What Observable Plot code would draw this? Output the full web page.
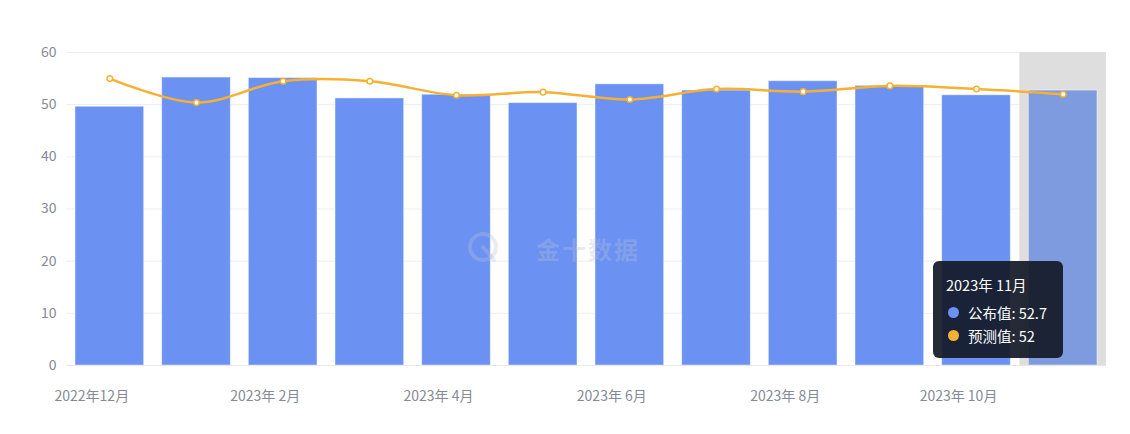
<!DOCTYPE html>
<html>
<head>
<meta charset="utf-8">
<script src="https://cdn.jsdelivr.net/npm/d3@7"></script>
<script src="https://cdn.jsdelivr.net/npm/@observablehq/plot@0.6"></script>
<style>
  html, body { margin: 0; padding: 0; background: #fff; }
  #wrap { position: relative; width: 1130px; height: 434px; font-family: "Noto Sans CJK SC", "Noto Sans", sans-serif; }
  #tip { position: absolute; left: 933px; top: 261px; width: 130px; height: 97px; box-sizing: border-box;
         background: rgba(20,26,40,0.93); border-radius: 6px; color: #fff; padding: 14px 0 0 13px; font-size: 14.5px; }
  #tip .t { line-height: 20px; margin-bottom: 6px; }
  #tip .r { line-height: 23px; display: flex; align-items: center; }
  #tip .c { width: 11px; height: 11px; border-radius: 50%; display: inline-block; margin-right: 9px; margin-left: 2px; }
  #wm { position: absolute; left: 466px; top: 230px; display: flex; align-items: center; color: rgba(185,193,210,0.32);
        font-size: 24px; font-weight: 700; letter-spacing: 2px; }
</style>
</head>
<body>
<div id="wrap"></div>
<script>
const months = ["2022-12","2023-01","2023-02","2023-03","2023-04","2023-05","2023-06","2023-07","2023-08","2023-09","2023-10","2023-11"];
const actual = [49.6, 55.2, 55.1, 51.2, 51.9, 50.3, 53.9, 52.7, 54.5, 53.6, 51.8, 52.7];
const forecast = [55.0, 50.4, 54.5, 54.5, 51.8, 52.4, 51.0, 53.0, 52.5, 53.6, 53.0, 52.0];
const xTickMonths = ["2022-12","2023-02","2023-04","2023-06","2023-08","2023-10"];
const xTickLabels = ["2022年12月","2023年 2月","2023年 4月","2023年 6月","2023年 8月","2023年 10月"];
const yTicks = [0, 10, 20, 30, 40, 50, 60];
const highlighted = "2023-11";
const tooltipTitle = "2023年 11月";
const seriesNames = ["公布值", "预测值"];

const table = months.map((m, i) => ({month: m, actual: actual[i], forecast: forecast[i]}));
const labelOf = new Map(xTickMonths.map((m, i) => [m, xTickLabels[i]]));
const hi = table.filter(d => d.month === highlighted);

const barColor = "#6b91f3";
const barHiColor = "#7f9be0";
const lineColor = "#f6b133";
const textColor = "#868a96";

const chart = Plot.plot({
  width: 1130,
  height: 434,
  marginLeft: 66,
  marginRight: 24,
  marginTop: 52,
  marginBottom: 69,
  style: {fontFamily: '"Noto Sans CJK SC", "Noto Sans", sans-serif', fontSize: "14px", background: "transparent"},
  x: {type: "band", domain: months, padding: 0, round: false, axis: null, label: null},
  y: {domain: [0, 60], axis: null, label: null},
  color: {type: "identity"},
  marks: [
    Plot.ruleY(yTicks, {stroke: "#eeeeee", strokeWidth: 1}),
    Plot.barY(hi, {x: "month", y1: 0, y2: 60, fill: "#dedede"}),
    Plot.barY(table, {x: "month", y: "actual", fill: d => d.month === highlighted ? barHiColor : barColor,
      insetLeft: 9, insetRight: 9, stroke: "#ffffff", strokeOpacity: 0.45, strokeWidth: 1}),
    Plot.ruleY([0], {stroke: "#e8e8e8", strokeWidth: 1}),
    Plot.line(table, {x: "month", y: "forecast", curve: "catmull-rom", stroke: lineColor, strokeWidth: 2.5}),
    Plot.dot(table, {x: "month", y: "forecast", r: 2.8, fill: "#fff", stroke: lineColor, strokeWidth: 1.5}),
    Plot.axisY({ticks: yTicks, tickSize: 0, tickPadding: 10, fill: textColor, fontSize: 14, label: null}),
    Plot.axisX({ticks: xTickMonths, tickFormat: m => labelOf.get(m), tickSize: 0, tickPadding: 26, dx: -18, fill: textColor, fontSize: 14, label: null})
  ]
});

const wrap = document.getElementById("wrap");
wrap.appendChild(chart);

const wm = document.createElement("div");
wm.id = "wm";
wm.innerHTML = '<svg width="36" height="36" viewBox="0 0 36 36" style="margin-right:34px"><circle cx="17" cy="17" r="13" fill="none" stroke="rgba(185,193,210,0.32)" stroke-width="4"/><path d="M17 17 L28 30" stroke="rgba(185,193,210,0.32)" stroke-width="4" stroke-linecap="round"/></svg><span>金十数据</span>';
wrap.appendChild(wm);

const tip = document.createElement("div");
tip.id = "tip";
const hd = hi[0];
tip.innerHTML = `<div class="t">${tooltipTitle}</div>
<div class="r"><span class="c" style="background:${barColor}"></span>${seriesNames[0]}: ${hd.actual}</div>
<div class="r"><span class="c" style="background:${lineColor}"></span>${seriesNames[1]}: ${hd.forecast}</div>`;
wrap.appendChild(tip);
</script>
</body>
</html>
